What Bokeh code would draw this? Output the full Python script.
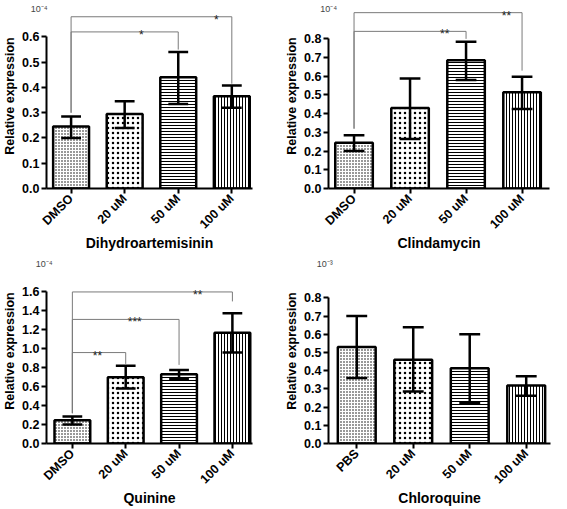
from bokeh.plotting import figure
from bokeh.layouts import row, column
from bokeh.models import (FixedTicker, PrintfTickFormatter, ColumnDataSource, Range1d,
                          LinearAxis)
from bokeh.core.properties import value
from bokeh.embed import file_html
from bokeh.resources import INLINE

# ---------------- data ----------------
cats_drug = ["DMSO", "20 uM", "50 uM", "100 uM"]
cats_pbs = ["PBS", "20 uM", "50 uM", "100 uM"]

dha_mean = [0.245, 0.295, 0.44, 0.365]
dha_hi = [0.285, 0.345, 0.54, 0.408]
dha_lo = [0.20, 0.24, 0.335, 0.32]
dha_ticks = [0.0, 0.1, 0.2, 0.3, 0.4, 0.5, 0.6]

cli_mean = [0.245, 0.43, 0.685, 0.515]
cli_hi = [0.285, 0.588, 0.785, 0.597]
cli_lo = [0.20, 0.265, 0.58, 0.425]
cli_ticks = [0.0, 0.1, 0.2, 0.3, 0.4, 0.5, 0.6, 0.7, 0.8]

qui_mean = [0.245, 0.70, 0.73, 1.17]
qui_hi = [0.285, 0.82, 0.775, 1.375]
qui_lo = [0.20, 0.58, 0.68, 0.96]
qui_ticks = [0.0, 0.2, 0.4, 0.6, 0.8, 1.0, 1.2, 1.4, 1.6]

chl_mean = [0.53, 0.46, 0.413, 0.318]
chl_hi = [0.70, 0.638, 0.60, 0.37]
chl_lo = [0.36, 0.285, 0.222, 0.262]
chl_ticks = [0.0, 0.1, 0.2, 0.3, 0.4, 0.5, 0.6, 0.7, 0.8]

# significance brackets (always against group 0)
dha_sig_group = [2, 3]
dha_sig_level = [0.62, 0.68]
dha_sig_base = [0.30, 0.30]
dha_sig_end = [0.55, 0.415]
dha_sig_label = ["*", "*"]
dha_sig_pos = [1.31, 2.71]

cli_sig_group = [2, 3]
cli_sig_level = [0.84, 0.94]
cli_sig_base = [0.32, 0.32]
cli_sig_end = [0.80, 0.63]
cli_sig_label = ["**", "**"]
cli_sig_pos = [1.62, 2.72]

qui_sig_group = [1, 2, 3]
qui_sig_level = [0.96, 1.31, 1.60]
qui_sig_base = [0.32, 0.32, 0.32]
qui_sig_end = [0.84, 0.83, 1.50]
qui_sig_label = ["**", "***", "**"]
qui_sig_pos = [0.47, 1.17, 2.35]

# ---------------- style ----------------
FONT = "Liberation Sans"
hatch_patterns = ["dot", "dot", "horizontal_line", "vertical_line"]
hatch_scales = [3, 5, 3, 3]
hatch_weights = [2.1, 5.0, 1.0, 1.0]
BAR_W = 0.67
CAP_W = 0.37
NBSP = "\u00a0"


def make_panel(cats, mean, hi, lo, ticks, title, exponent, geom, sig=None):
    w, h, mbl, mbr, mbb, xs0, xs1, ye, exp_pad = geom
    p = figure(width=w, height=h, output_backend="svg", toolbar_location=None,
               x_range=Range1d(xs0, xs1), y_range=Range1d(0, ye),
               min_border_left=mbl, min_border_right=mbr, min_border_top=0,
               min_border_bottom=mbb)
    p.outline_line_color = None
    p.xgrid.grid_line_color = None
    p.ygrid.grid_line_color = None
    xs = list(range(len(cats)))
    src = ColumnDataSource(dict(x=xs, top=mean, hp=hatch_patterns,
                                hs=hatch_scales, hw=hatch_weights))
    p.vbar(x="x", top="top", bottom=0, width=BAR_W, source=src,
           fill_color="white", line_color="black", line_width=2.5,
           hatch_pattern="hp", hatch_scale="hs", hatch_weight="hw",
           hatch_color="black")
    # error bars
    p.segment(x0=xs, y0=lo, x1=xs, y1=hi, line_color="black", line_width=2.5)
    p.segment(x0=[x - CAP_W / 2 for x in xs], y0=hi,
              x1=[x + CAP_W / 2 for x in xs], y1=hi,
              line_color="black", line_width=2.5)
    p.segment(x0=[x - CAP_W / 2 for x in xs], y0=lo,
              x1=[x + CAP_W / 2 for x in xs], y1=lo,
              line_color="black", line_width=2.5)
    if sig is not None:
        grp, lev, base, end, lab, pos = sig
        n = len(grp)
        gray = "#7a7a7a"
        p.segment(x0=[0] * n, y0=base, x1=[0] * n, y1=lev, line_color=gray, line_width=1)
        p.segment(x0=grp, y0=end, x1=grp, y1=lev, line_color=gray, line_width=1)
        p.segment(x0=[0] * n, y0=lev, x1=grp, y1=lev, line_color=gray, line_width=1)
        p.text(x=pos, y=lev, text=lab, text_font=value(FONT), text_font_size="12px",
               text_align="center", text_baseline="alphabetic", y_offset=3,
               text_color="#222222")
    # axes
    for ax in (p.xaxis[0], p.yaxis[0]):
        ax.axis_line_width = 2
        ax.axis_line_color = "black"
        ax.major_tick_line_width = 2
        ax.major_tick_line_color = "black"
        ax.major_tick_out = 5
        ax.major_tick_in = 0
        ax.minor_tick_line_color = None
        ax.major_label_text_font = FONT
        ax.major_label_text_font_style = "bold"
        ax.major_label_text_color = "black"
        ax.axis_label_text_font = FONT
        ax.axis_label_text_font_style = "bold"
        ax.axis_label_text_color = "black"
    ya = p.yaxis[0]
    ya.ticker = FixedTicker(ticks=ticks)
    ya.formatter = PrintfTickFormatter(format="%.1f")
    ya.bounds = (0, ticks[-1])
    ya.major_label_text_font_size = "12.5px"
    ya.major_label_standoff = 2
    ya.axis_label = "Relative expression"
    ya.axis_label_text_font_size = "12.5px"
    ya.axis_label_standoff = 2
    xa = p.xaxis[0]
    xa.ticker = FixedTicker(ticks=xs)
    xa.major_label_overrides = {i: c for i, c in enumerate(cats)}
    xa.major_label_orientation = 0.785398
    xa.major_label_text_font_size = "12.5px"
    xa.major_label_standoff = 3
    xa.axis_label = title
    xa.axis_label_text_font_size = "14px"
    xa.axis_label_standoff = -4
    # axis multiplier "10^-n": a label-only top axis, folded into the plot area
    exp_key = round(xs0 + 0.002, 4)
    ea = LinearAxis(ticker=FixedTicker(ticks=[exp_key]),
                    major_label_overrides={exp_key: exponent + NBSP * exp_pad},
                    axis_line_color=None, major_tick_line_color=None,
                    minor_tick_line_color=None, major_tick_out=0, major_tick_in=0,
                    major_label_standoff=-10,
                    major_label_text_font=FONT, major_label_text_font_size="9px",
                    major_label_text_color="#444444")
    p.add_layout(ea, "above")
    return p


p1 = make_panel(cats_drug, dha_mean, dha_hi, dha_lo, dha_ticks, "Dihydroartemisinin", "10⁻⁴",
                (282, 255, 34, 30, 67, -0.459, 3.386, 0.7325, 6),
                (dha_sig_group, dha_sig_level, dha_sig_base, dha_sig_end, dha_sig_label, dha_sig_pos))
p2 = make_panel(cats_drug, cli_mean, cli_hi, cli_lo, cli_ticks, "Clindamycin", "10⁻⁴",
                (269, 255, 42, 2, 67, -0.456, 3.49, 0.989, 0),
                (cli_sig_group, cli_sig_level, cli_sig_base, cli_sig_end, cli_sig_label, cli_sig_pos))
p3 = make_panel(cats_drug, qui_mean, qui_hi, qui_lo, qui_ticks, "Quinine", "10⁻⁴",
                (282, 254, 33, 30, 66, -0.485, 3.377, 1.953, 2),
                (qui_sig_group, qui_sig_level, qui_sig_base, qui_sig_end, qui_sig_label, qui_sig_pos))
p4 = make_panel(cats_pbs, chl_mean, chl_hi, chl_lo, chl_ticks, "Chloroquine", "10⁻³",
                (269, 254, 46, 1, 61, -0.5, 3.43, 1.016, 3))

layout = column(row(p1, p2), row(p3, p4))
open("out.html", "w").write(file_html(layout, INLINE))
